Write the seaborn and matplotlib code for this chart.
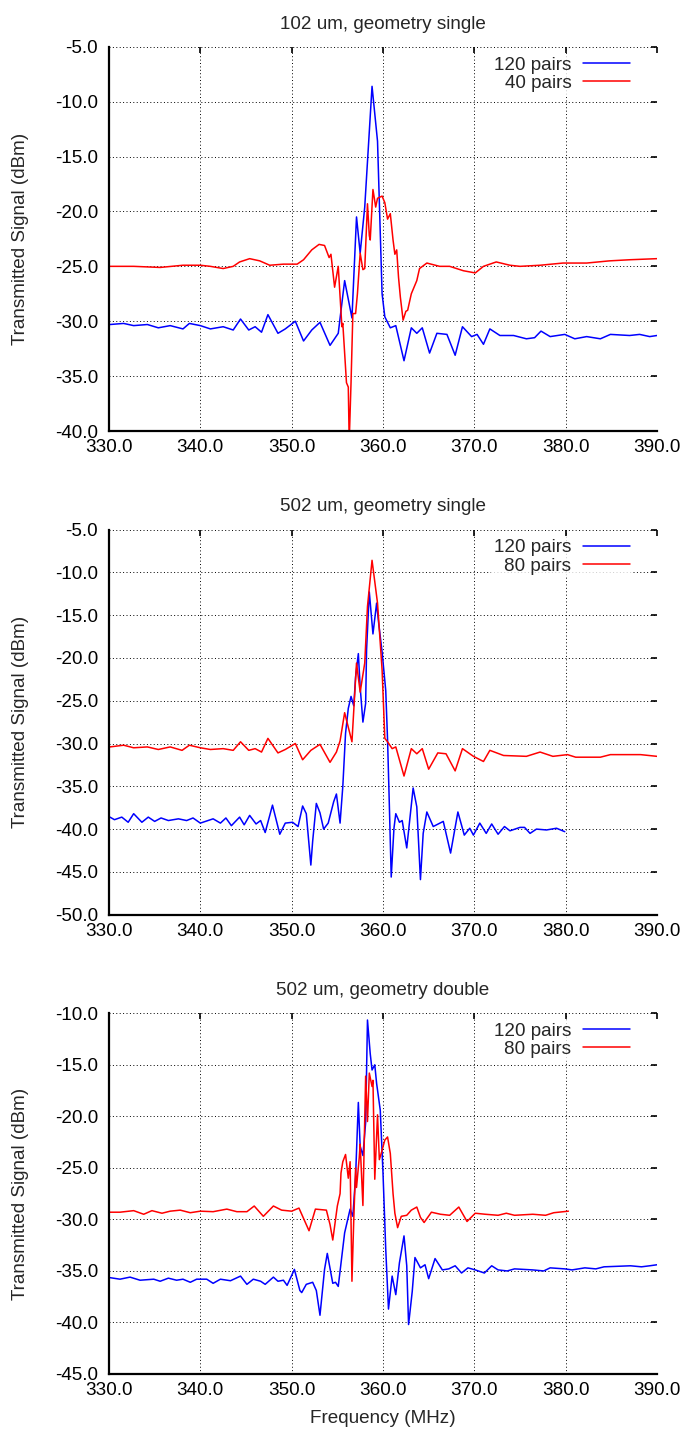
import numpy as np
import pandas as pd
import seaborn as sns
import matplotlib.pyplot as plt
from matplotlib.ticker import FormatStrFormatter, MultipleLocator

# ---- data (frequency MHz, signal dBm) ----
# panel 1: 102 um, single
p1_blue_f = [330.1, 331.6, 332.7, 334.2, 335.4, 336.7, 338.1, 338.8, 340.0, 341.1, 342.5, 343.6, 344.4, 345.3,
             346.0, 346.7, 347.4, 348.5, 349.3, 350.4, 351.3, 352.2, 353.1, 354.2, 355.1, 355.8, 356.6, 357.1,
             357.5, 358.0, 358.8, 359.4, 359.9, 360.2, 360.8, 361.4, 362.3, 363.1, 363.7, 364.3, 365.1, 365.9,
             367.0, 367.9, 368.7, 369.7, 370.3, 371.0, 371.7, 372.8, 374.3, 375.7, 376.6, 377.3, 378.3, 379.9,
             381.0, 382.3, 383.8, 384.9, 387.0, 388.1, 389.2, 390.0]
p1_blue_v = [-30.3, -30.2, -30.4, -30.3, -30.6, -30.4, -30.7, -30.2, -30.4, -30.7, -30.5, -30.8, -29.8, -30.8,
             -30.5, -31.0, -29.4, -31.1, -30.7, -30.0, -31.8, -30.8, -30.1, -32.2, -31.1, -26.3, -29.7, -20.5,
             -23.8, -19.6, -8.6, -13.6, -27.5, -29.6, -30.6, -30.4, -33.6, -30.6, -31.1, -30.6, -32.9, -31.1,
             -31.2, -33.1, -30.5, -31.4, -31.2, -32.1, -30.7, -31.3, -31.3, -31.6, -31.5, -30.9, -31.4, -31.2,
             -31.6, -31.4, -31.6, -31.2, -31.3, -31.2, -31.4, -31.3]

p1_red_f = [330.1, 332.7, 335.6, 338.1, 340.0, 341.1, 342.5, 343.6, 344.3, 345.4, 346.5, 347.6, 349.1, 350.6,
            351.3, 352.2, 353.0, 353.6, 354.1, 354.3, 354.7, 355.1, 355.5, 355.6, 356.0, 356.2, 356.3, 356.5,
            356.7, 357.0, 357.2, 357.5, 357.8, 358.0, 358.3, 358.5, 358.6, 358.9, 359.2, 359.4, 359.9, 360.2,
            360.5, 360.8, 361.1, 361.3, 361.5, 361.7, 361.9, 362.2, 362.5, 362.7, 363.1, 363.7, 364.0, 364.8,
            366.2, 367.3, 368.8, 370.1, 371.0, 372.4, 373.9, 375.0, 377.2, 379.7, 382.3, 384.8, 387.0, 390.0]
p1_red_v = [-25.0, -25.0, -25.1, -24.9, -24.9, -25.0, -25.2, -25.0, -24.6, -24.3, -24.5, -24.9, -24.8, -24.8,
            -24.4, -23.5, -23.0, -23.1, -24.2, -23.9, -26.9, -25.0, -30.5, -30.2, -35.6, -36.0, -41.0, -35.6,
            -29.3, -29.3, -27.5, -23.8, -25.3, -25.2, -19.3, -22.2, -22.6, -18.0, -19.6, -18.8, -18.6, -19.2,
            -20.7, -20.2, -22.6, -23.9, -23.5, -26.0, -27.8, -29.9, -29.1, -29.0, -27.5, -26.3, -25.2, -24.7,
            -25.0, -25.0, -25.4, -25.6, -25.0, -24.6, -24.9, -25.0, -24.9, -24.7, -24.7, -24.5, -24.4, -24.3]

# panel 2: 502 um, single
p2_blue_f = [330.1, 330.6, 331.4, 332.1, 332.7, 333.6, 334.3, 335.0, 335.7, 336.5, 337.6, 338.5, 339.2, 340.0,
             341.4, 342.2, 342.8, 343.4, 344.3, 344.8, 345.4, 346.1, 346.6, 347.1, 347.9, 348.7, 349.3, 350.1,
             350.7, 351.2, 351.6, 352.1, 352.3, 352.7, 353.1, 353.5, 354.0, 354.6, 354.9, 355.3, 355.6, 355.9,
             356.2, 356.5, 356.8, 357.0, 357.3, 357.5, 357.8, 358.1, 358.2, 358.5, 358.9, 359.3, 359.5, 359.9,
             360.3, 360.5, 360.7, 360.9, 361.2, 361.4, 361.8, 362.1, 362.6, 363.0, 363.3, 363.7, 364.1, 364.4,
             364.8, 365.5, 366.6, 367.4, 368.2, 368.9, 369.5, 369.9, 370.6, 371.3, 371.9, 372.6, 373.3, 373.9,
             375.0, 375.5, 376.1, 376.8, 377.9, 379.0, 379.9]
p2_blue_v = [-38.6, -38.9, -38.6, -39.2, -38.2, -39.2, -38.6, -39.1, -38.7, -39.0, -38.8, -39.0, -38.7, -39.3,
             -38.8, -39.3, -38.7, -39.6, -38.6, -39.5, -38.4, -39.4, -39.0, -40.4, -37.2, -40.6, -39.3, -39.2,
             -39.7, -37.3, -38.2, -44.2, -41.4, -37.0, -38.1, -40.0, -39.3, -36.8, -35.9, -39.3, -35.0, -28.8,
             -25.9, -24.5, -25.6, -22.2, -19.5, -23.4, -27.5, -25.3, -19.1, -12.3, -17.2, -13.6, -15.7, -19.3,
             -23.8, -29.6, -37.4, -45.6, -39.9, -38.2, -39.2, -39.0, -42.2, -38.2, -35.2, -37.4, -45.9, -40.5,
             -38.0, -39.7, -39.1, -42.8, -38.0, -40.7, -39.9, -40.7, -39.3, -40.5, -39.4, -40.6, -39.7, -40.2,
             -39.8, -39.8, -40.5, -40.0, -40.1, -39.9, -40.3]

p2_red_f = [330.1, 331.6, 332.7, 334.2, 335.4, 336.7, 338.0, 338.8, 340.0, 341.1, 342.5, 343.6, 344.4, 345.3,
            346.0, 346.7, 347.4, 348.5, 349.3, 350.4, 351.2, 352.1, 353.1, 354.2, 354.9, 355.3, 355.8, 356.6,
            357.1, 357.5, 358.0, 358.3, 358.8, 359.4, 359.9, 360.2, 360.5, 361.0, 361.4, 362.3, 363.1, 363.7,
            364.3, 365.0, 366.0, 366.9, 367.9, 368.7, 369.9, 371.0, 371.7, 373.2, 375.7, 377.2, 378.6, 380.2,
            381.1, 383.8, 384.9, 388.2, 390.0]
p2_red_v = [-30.4, -30.2, -30.5, -30.4, -30.7, -30.4, -30.8, -30.2, -30.5, -30.7, -30.6, -30.8, -29.8, -30.8,
            -30.6, -31.0, -29.4, -31.1, -30.7, -30.0, -31.9, -30.8, -30.1, -32.2, -31.0, -29.7, -26.4, -29.8,
            -20.6, -24.0, -20.6, -14.0, -8.6, -13.6, -21.4, -29.4, -29.8, -30.6, -30.4, -33.8, -30.6, -31.2,
            -30.6, -33.0, -31.1, -31.2, -33.2, -30.6, -31.5, -32.1, -30.8, -31.4, -31.5, -31.0, -31.5, -31.3,
            -31.6, -31.6, -31.3, -31.3, -31.5]

# panel 3: 502 um, double
p3_blue_f = [330.1, 331.2, 332.3, 333.4, 334.9, 335.6, 336.5, 337.4, 338.1, 338.9, 339.6, 340.7, 341.4, 342.2,
             343.3, 344.4, 345.1, 345.8, 346.6, 347.1, 348.0, 348.5, 349.1, 349.5, 350.3, 350.9, 351.1, 351.6,
             352.3, 352.7, 353.1, 353.6, 353.9, 354.5, 354.8, 355.1, 355.8, 356.4, 356.7, 357.0, 357.3, 357.5,
             357.8, 358.1, 358.3, 358.6, 358.8, 359.1, 359.3, 359.7, 360.0, 360.3, 360.6, 361.0, 361.4, 361.8,
             362.3, 362.6, 362.8, 363.2, 363.5, 364.1, 364.6, 365.0, 365.7, 366.5, 367.2, 367.9, 368.6, 369.3,
             370.1, 371.1, 371.9, 372.6, 373.6, 374.4, 376.4, 377.6, 378.3, 379.9, 380.7, 382.1, 383.3, 384.2,
             387.1, 388.3, 389.2, 390.0]
p3_blue_v = [-35.65, -35.8, -35.6, -35.9, -35.8, -36.0, -35.7, -35.9, -35.8, -36.1, -35.8, -35.8, -36.2, -35.8,
             -35.95, -35.5, -36.3, -35.8, -36.0, -36.3, -35.6, -36.0, -35.9, -36.4, -34.85, -36.9, -37.1, -36.3,
             -36.1, -36.9, -39.3, -34.85, -33.3, -36.2, -36.1, -36.5, -31.3, -29.0, -29.7, -25.8, -18.65, -22.9,
             -23.8, -20.6, -10.65, -13.9, -15.5, -15.0, -16.8, -19.4, -25.5, -32.9, -38.7, -35.5, -37.3, -34.2,
             -31.6, -34.5, -40.2, -37.0, -33.7, -34.7, -34.4, -35.75, -33.8, -34.9, -34.8, -34.5, -35.2, -34.7,
             -34.9, -35.2, -34.5, -34.9, -35.0, -34.8, -34.9, -35.0, -34.7, -34.8, -34.9, -34.7, -34.8, -34.6,
             -34.5, -34.6, -34.5, -34.4]

p3_red_f = [330.1, 331.2, 332.7, 333.8, 334.7, 335.8, 336.7, 337.8, 338.9, 340.0, 341.4, 342.9, 344.0, 345.1,
            345.9, 346.9, 348.0, 348.9, 350.0, 350.8, 351.9, 352.6, 353.8, 354.2, 354.5, 355.0, 355.3, 355.4,
            355.6, 355.9, 356.2, 356.4, 356.6, 356.8, 357.0, 357.1, 357.4, 357.5, 357.8, 357.9, 358.1, 358.3,
            358.5, 358.8, 358.9, 359.1, 359.4, 359.6, 359.8, 360.2, 360.5, 360.8, 361.1, 361.3, 361.6, 362.0,
            362.6, 363.1, 363.7, 364.1, 364.5, 365.3, 366.3, 367.3, 368.3, 369.2, 370.1, 371.2, 372.6, 373.5,
            374.4, 376.4, 377.8, 378.7, 380.3]
p3_red_v = [-29.3, -29.3, -29.15, -29.5, -29.15, -29.4, -29.2, -29.1, -29.35, -29.2, -29.25, -29.0, -29.25, -29.25,
            -28.7, -29.7, -28.7, -29.1, -29.2, -28.9, -31.1, -29.0, -29.1, -30.5, -32.0, -28.7, -27.5, -25.5,
            -24.4, -23.7, -26.0, -24.4, -36.0, -30.0, -25.0, -26.9, -24.0, -22.7, -28.65, -24.5, -16.1, -20.5,
            -15.8, -17.1, -16.5, -26.1, -19.85, -24.2, -23.6, -22.3, -22.0, -23.6, -27.5, -29.4, -30.8, -29.7,
            -29.6, -29.1, -28.8, -29.8, -30.3, -29.3, -29.5, -29.6, -28.8, -30.2, -29.4, -29.5, -29.6, -29.4,
            -29.6, -29.5, -29.6, -29.35, -29.2]

titles = ["102 um, geometry single", "502 um, geometry single", "502 um, geometry double"]
labels = [("120 pairs", "40 pairs"), ("120 pairs", "80 pairs"), ("120 pairs", "80 pairs")]
ylims = [(-40, -5), (-50, -5), (-45, -10)]
series = [(p1_blue_f, p1_blue_v, p1_red_f, p1_red_v),
          (p2_blue_f, p2_blue_v, p2_red_f, p2_red_v),
          (p3_blue_f, p3_blue_v, p3_red_f, p3_red_v)]

sns.set_theme(style="white")
plt.rcParams['font.family'] = ['Liberation Sans', 'DejaVu Sans']
fs = 13.6
plt.rcParams['font.size'] = fs

W, H = 683, 1435
fig = plt.figure(figsize=(W / 100, H / 100), dpi=100)

# axes boxes in pixels: (left, top, right, bottom)
boxes = [(109, 46.8, 657, 431), (109, 529.5, 657, 914.7), (109, 1013.3, 657, 1374)]

for i, (l, t, r, b) in enumerate(boxes):
    ax = fig.add_axes([l / W, 1 - b / H, (r - l) / W, (b - t) / H])
    bf, bv, rf, rv = series[i]
    d_blue = pd.DataFrame({'f': bf, 'v': bv})
    d_red = pd.DataFrame({'f': rf, 'v': rv})
    sns.lineplot(data=d_blue, x='f', y='v', ax=ax, color='#0000ff', lw=1.1, label=labels[i][0])
    sns.lineplot(data=d_red, x='f', y='v', ax=ax, color='#ff0000', lw=1.1, label=labels[i][1])

    ax.set_xlim(330, 390)
    ax.set_ylim(*ylims[i])
    ax.xaxis.set_major_locator(MultipleLocator(10))
    ax.yaxis.set_major_locator(MultipleLocator(5))
    ax.xaxis.set_major_formatter(FormatStrFormatter('%.1f'))
    ax.yaxis.set_major_formatter(FormatStrFormatter('%.1f'))
    ax.grid(True, color='black', lw=0.7, linestyle=(0, (1, 2.5)))
    ax.set_axisbelow(True)
    for s in ['top', 'right']:
        ax.spines[s].set_visible(False)
    for s in ['left', 'bottom']:
        ax.spines[s].set_linewidth(1.6)
        ax.spines[s].set_color('black')
    ax.tick_params(direction='in', length=4, width=1.2, top=True, right=True,
                   labelsize=fs, colors='black', pad=6)
    ax.tick_params(axis='y', pad=8)
    ax.set_title(titles[i], fontsize=fs, pad=13)
    ax.set_ylabel("Transmitted Signal (dBm)", fontsize=fs)
    ax.yaxis.set_label_coords(-0.146, 0.5)
    if i == 2:
        ax.set_xlabel("Frequency (MHz)", fontsize=fs, labelpad=8)
    else:
        ax.set_xlabel("")

    leg = ax.legend(loc='upper right', bbox_to_anchor=(0.956, 0.982), markerfirst=False,
                    frameon=True, fancybox=False, borderpad=0.15, borderaxespad=0,
                    handlelength=2.5, handletextpad=0.6, labelspacing=0.05, fontsize=fs)
    leg.get_frame().set_facecolor('white')
    leg.get_frame().set_edgecolor('white')
    leg.get_frame().set_linewidth(0)

fig.savefig('out.png', dpi=100)
